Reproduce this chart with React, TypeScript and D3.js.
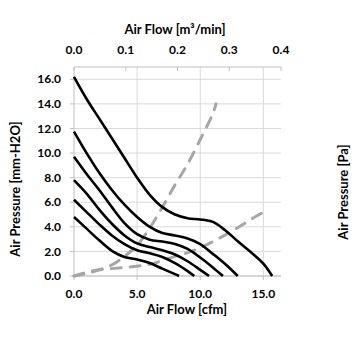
import React from "react";
import * as d3 from "d3";

const flowCfm1 = [0, 1, 2, 3, 4, 5, 6, 7, 8, 9, 10, 11, 12, 13, 14, 15, 15.7];
const pressure1 = [16.2, 14.4, 12.8, 11.2, 9.6, 8.0, 6.6, 5.6, 5.0, 4.7, 4.6, 4.4, 3.7, 2.8, 1.95, 1.0, 0];

const flowCfm2 = [0, 1, 2, 3, 4, 5, 6, 7, 8, 9, 10, 11, 12, 12.97];
const pressure2 = [11.75, 10.0, 8.4, 7.0, 5.8, 4.8, 4.0, 3.5, 3.3, 3.05, 2.6, 1.8, 0.95, 0];

const flowCfm3 = [0, 1, 2, 3, 4, 5, 6, 7, 8, 9, 10, 11, 11.8];
const pressure3 = [9.7, 8.3, 7.0, 5.6, 4.3, 3.4, 2.95, 2.8, 2.6, 2.2, 1.5, 0.7, 0];

const flowCfm4 = [0, 1, 2, 3, 4, 5, 6, 7, 8, 9, 10, 10.7];
const pressure4 = [7.8, 6.7, 5.4, 4.25, 3.3, 2.65, 2.35, 2.1, 1.75, 1.2, 0.5, 0];

const flowCfm5 = [0, 1, 2, 3, 4, 5, 6, 7, 8, 9, 9.53];
const pressure5 = [6.2, 5.2, 4.2, 3.3, 2.6, 2.1, 1.85, 1.55, 1.05, 0.4, 0];

const flowCfm6 = [0, 1, 2, 3, 4, 5, 6, 7, 8, 8.32];
const pressure6 = [4.8, 3.85, 2.9, 2.05, 1.55, 1.35, 1.05, 0.6, 0.15, 0];

const impedanceFlowA = [0, 1, 2, 3, 4, 5, 6, 7, 8, 9, 10, 11, 11.25];
const impedancePressureA = [0, 0.2, 0.5, 0.9, 1.6, 2.5, 3.9, 5.6, 7.4, 9.1, 11.1, 13.2, 14.0];

const impedanceFlowB = [0, 1, 2, 3, 4, 5, 6, 7, 8, 9, 10, 11, 12, 13, 14, 15, 15.4];
const impedancePressureB = [0, 0.3, 0.5, 0.6, 0.7, 0.8, 0.95, 1.25, 1.6, 1.9, 2.3, 2.8, 3.35, 3.95, 4.6, 5.2, 5.5];

const yTicks = [0, 2, 4, 6, 8, 10, 12, 14, 16];
const xTicksCfm = [0, 5, 10, 15];
const xTicksM3 = [0, 0.1, 0.2, 0.3, 0.4];

const fanCurves = [
  [flowCfm1, pressure1],
  [flowCfm2, pressure2],
  [flowCfm3, pressure3],
  [flowCfm4, pressure4],
  [flowCfm5, pressure5],
  [flowCfm6, pressure6],
];
const impedanceCurves = [
  [impedanceFlowA, impedancePressureA],
  [impedanceFlowB, impedancePressureB],
];

export default function App() {
  const left = 74, right = 281, top = 67, bottom = 276;
  const x = d3.scaleLinear().domain([0, 16.4]).range([left, right]);
  const xTop = d3.scaleLinear().domain([0, 0.4]).range([left, right]);
  const y = d3.scaleLinear().domain([0, 17]).range([bottom, top]);
  const line = d3
    .line<[number, number]>()
    .x((d) => x(d[0]))
    .y((d) => y(d[1]))
    .curve(d3.curveCatmullRom.alpha(0.5));
  const toPts = (xs: number[], ys: number[]) => xs.map((v, i) => [v, ys[i]] as [number, number]);
  const font = "Lato, 'Open Sans', sans-serif";
  const grid = "#d9d9d9";
  const axisCol = "#bfbfbf";

  return (
    <svg width={355} height={355} style={{ position: "absolute", left: 0, top: 0, background: "#fff" }} fontFamily={font}>
      {yTicks.map((t) => (
        <line key={"hg" + t} x1={left} x2={right} y1={y(t)} y2={y(t)} stroke={grid} strokeWidth={1} />
      ))}
      {xTicksCfm.filter((t) => t > 0).map((t) => (
        <line key={"vg" + t} x1={x(t)} x2={x(t)} y1={top} y2={bottom} stroke={grid} strokeWidth={1} />
      ))}
      <line x1={left} x2={left} y1={top} y2={bottom} stroke={axisCol} />
      {yTicks.map((t) => (
        <g key={"yt" + t}>
          <line x1={left - 4} x2={left} y1={y(t)} y2={y(t)} stroke={axisCol} />
          <text x={61} y={y(t)} dy="0.35em" textAnchor="end" fontSize={12} fontWeight="bold" fill="#000">
            {t.toFixed(1)}
          </text>
        </g>
      ))}
      <line x1={left} x2={right} y1={bottom} y2={bottom} stroke={axisCol} />
      {xTicksCfm.map((t) => (
        <g key={"xb" + t}>
          <line x1={x(t)} x2={x(t)} y1={bottom} y2={bottom + 4} stroke={axisCol} />
          <text x={x(t)} y={294} dy="0.35em" textAnchor="middle" fontSize={12} fontWeight="bold" fill="#000">
            {t.toFixed(1)}
          </text>
        </g>
      ))}
      <line x1={left} x2={right} y1={top} y2={top} stroke={axisCol} />
      {xTicksM3.map((t) => (
        <g key={"xt" + t}>
          <line x1={xTop(t)} x2={xTop(t)} y1={top} y2={top + 4} stroke={axisCol} />
          <text x={xTop(t)} y={50} dy="0.35em" textAnchor="middle" fontSize={12} fontWeight="bold" fill="#000">
            {t.toFixed(1)}
          </text>
        </g>
      ))}
      {impedanceCurves.map(([xs, ys], i) => (
        <path
          key={"imp" + i}
          d={line(toPts(xs, ys)) || ""}
          fill="none"
          stroke="#a6a6a6"
          strokeWidth={3}
          strokeDasharray="10 9"
          strokeLinecap="round"
        />
      ))}
      {fanCurves.map(([xs, ys], i) => (
        <path key={"fan" + i} d={line(toPts(xs, ys)) || ""} fill="none" stroke="#000" strokeWidth={2.6} />
      ))}
      <text x={175} y={29} dy="0.35em" textAnchor="middle" fontSize={13} fontWeight="bold" fill="#000">
        Air Flow [m³/min]
      </text>
      <text x={187} y={309} dy="0.35em" textAnchor="middle" fontSize={13} fontWeight="bold" fill="#000">
        Air Flow [cfm]
      </text>
      <text
        transform="translate(15,189) rotate(-90)"
        dy="0.35em"
        textAnchor="middle"
        fontSize={13}
        fontWeight="bold"
        fill="#000"
      >
        Air Pressure [mm-H2O]
      </text>
      <text
        transform="translate(343,192) rotate(-90)"
        dy="0.35em"
        textAnchor="middle"
        fontSize={13}
        fontWeight="bold"
        fill="#000"
      >
        Air Pressure [Pa]
      </text>
    </svg>
  );
}
